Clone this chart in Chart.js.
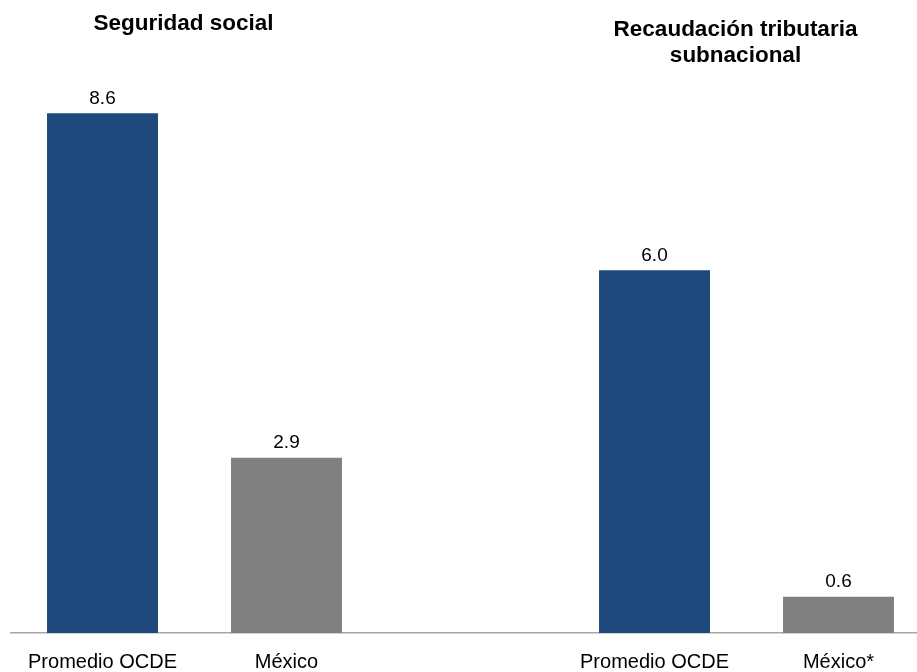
<!DOCTYPE html>
<html lang="es">
<head>
  <meta charset="UTF-8">
  <script src="https://cdn.jsdelivr.net/npm/chart.js@4.4.1/dist/chart.umd.min.js"></script>
  <style>
    html, body { margin: 0; padding: 0; background: #fff; overflow: hidden; }
    .wrap { width: 940px; height: 700px; position: relative; }
  </style>
  <title>Seguridad social y recaudación subnacional</title>
</head>
<body>
  <div class="wrap">
    <canvas id="chart"></canvas>
  </div>
  <script>
  const categories = ['Promedio OCDE', 'México', '', 'Promedio OCDE', 'México*']
  const values = [8.6, 2.9, null, 6.0, 0.6]
  const barColors = ['#1f497d', '#808080', '#808080', '#1f497d', '#808080']
  const groupTitles = [['Seguridad social'], ['Recaudación tributaria', 'subnacional']]
  const groupIdx = [[0, 1], [3, 4]]

  const fontFamily = '"Liberation Sans", Arial, sans-serif'

  // value labels above bars + group titles
  const extras = {
    id: 'extras',
    afterDatasetsDraw(chart) {
      const ctx = chart.ctx
      const meta = chart.getDatasetMeta(0)
      ctx.save()
      ctx.fillStyle = '#000'
      ctx.font = '19px ' + fontFamily
      ctx.textAlign = 'center'
      ctx.textBaseline = 'bottom'
      meta.data.forEach((bar, i) => {
        if (values[i] == null) return
        ctx.fillText(values[i].toFixed(1), bar.x, bar.y - 5)
      })
      const xs = chart.scales.x
      ctx.font = 'bold 22.5px ' + fontFamily
      ctx.textBaseline = 'middle'
      groupTitles.forEach((lines, g) => {
        const cx = (xs.getPixelForValue(groupIdx[g][0]) + xs.getPixelForValue(groupIdx[g][1])) / 2 - 11
        lines.forEach((t, k) => {
          const y = (lines.length === 1 ? 24 : 30) + k * 26
          ctx.fillText(t, cx, y)
        })
      })
      ctx.restore()
    }
  }

  new Chart(document.getElementById('chart'), {
    type: 'bar',
    data: {
      labels: categories,
      datasets: [{
        data: values,
        backgroundColor: barColors,
        categoryPercentage: 1,
        barPercentage: 0.603
      }]
    },
    options: {
      responsive: true,
      maintainAspectRatio: false,
      animation: false,
      layout: { padding: { left: 10.5, right: 9.5, top: 28.5, bottom: 9 } },
      plugins: {
        legend: { display: false },
        tooltip: { enabled: false }
      },
      scales: {
        x: {
          grid: { display: false, drawTicks: false },
          border: { display: true, color: '#a6a6a6', width: 1.5 },
          ticks: {
            color: '#000',
            font: { family: fontFamily, size: 20 },
            padding: 17,
            maxRotation: 0,
            autoSkip: false
          }
        },
        y: {
          display: false,
          min: 0,
          max: 10
        }
      }
    },
    plugins: [extras]
  })
  </script>
</body>
</html>
